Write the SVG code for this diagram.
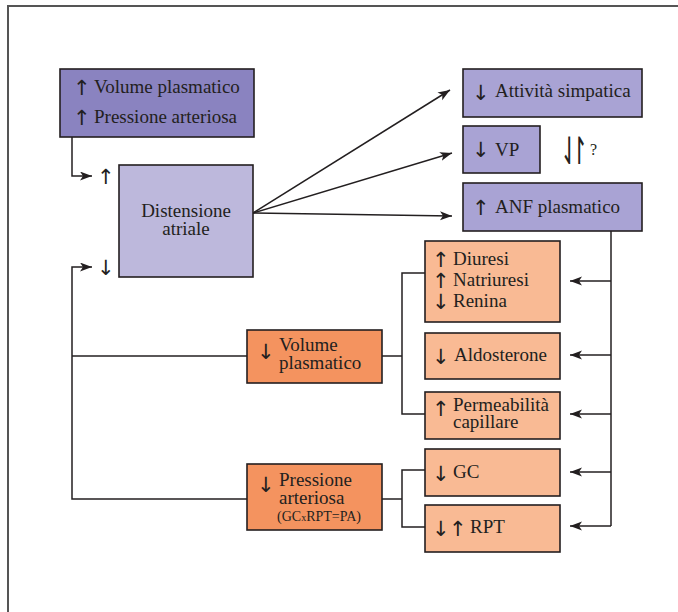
<svg xmlns="http://www.w3.org/2000/svg" width="678" height="612" viewBox="0 0 678 612">
<defs>
<style>
.box{stroke:#231f20;stroke-width:1.6}
.p1{fill:#8a83c0}
.p2{fill:#bdb8dc}
.p3{fill:#a9a3d4}
.o1{fill:#f4935f}
.o2{fill:#f9ba94}
text{font-family:"Liberation Serif","Times New Roman",serif;font-size:19px;fill:#231f20}
.ar{font-family:"DejaVu Sans",sans-serif;font-size:21px;fill:#231f20}
.ln{fill:none;stroke:#231f20;stroke-width:1.5}
</style>
<marker id="ah" markerUnits="userSpaceOnUse" markerWidth="14" markerHeight="10" refX="12" refY="4.5" orient="auto">
<path d="M0,0 L12,4.5 L0,9 L3,4.5 Z" fill="#231f20"/>
</marker>
</defs>
<rect width="678" height="612" fill="#ffffff"/>
<g id="frame">
<path d="M8,612 V6 H678" fill="none" stroke="#555" stroke-width="2"/>
</g>
<g id="connectors">
<path class="ln" d="M72,137 V176 H92" marker-end="url(#ah)"/>
<path class="ln" d="M247,499 H72 V267 H92" marker-end="url(#ah)"/>
<path class="ln" d="M72,356 H247"/>
<path class="ln" d="M253,213 L450,90" marker-end="url(#ah)"/>
<path class="ln" d="M253,213 L452,153" marker-end="url(#ah)"/>
<path class="ln" d="M253,213 L452,216" marker-end="url(#ah)"/>
<path class="ln" d="M382,356 H402"/>
<path class="ln" d="M425,273 H402 V414 H425"/>
<path class="ln" d="M382,499 H402"/>
<path class="ln" d="M425,470 H402 V527 H425"/>
<path class="ln" d="M611,231 V526"/>
<path class="ln" d="M611,281 H570" marker-end="url(#ah)"/>
<path class="ln" d="M611,355 H570" marker-end="url(#ah)"/>
<path class="ln" d="M611,414 H570" marker-end="url(#ah)"/>
<path class="ln" d="M611,472 H570" marker-end="url(#ah)"/>
<path class="ln" d="M611,526 H570" marker-end="url(#ah)"/>
</g>
<g id="n-top">
<rect class="box p1" x="60" y="69" width="194" height="68"/>
<text class="ar" x="73" y="95">↑</text><text x="94" y="93">Volume plasmatico</text>
<text class="ar" x="73" y="125">↑</text><text x="94" y="123">Pressione arteriosa</text>
</g>
<g id="n-dist">
<text class="ar" x="97" y="184">↑</text>
<text class="ar" x="97" y="275">↓</text>
<rect class="box p2" x="119" y="165" width="134" height="112"/>
<text text-anchor="middle"><tspan x="186" y="217">Distensione</tspan><tspan x="186" y="235">atriale</tspan></text>
</g>
<g id="n-simp">
<rect class="box p3" x="463" y="69" width="179" height="48"/>
<text class="ar" x="472" y="100">↓</text><text x="495" y="97">Attività simpatica</text>
</g>
<g id="n-vp">
<rect class="box p3" x="463" y="126" width="77" height="47"/>
<text class="ar" x="472" y="157">↓</text><text x="495" y="156">VP</text>
<text class="ar" transform="translate(560,164) scale(1,1.7)" style="font-size:22px"><tspan x="0" y="0">⇃</tspan><tspan x="10" y="0">↾</tspan></text>
<text x="590" y="155" style="font-size:16px">?</text>
</g>
<g id="n-anf">
<rect class="box p3" x="463" y="183" width="179" height="48"/>
<text class="ar" x="472" y="215">↑</text><text x="495" y="213">ANF plasmatico</text>
</g>
<g id="n-vol">
<rect class="box o1" x="247" y="330" width="135" height="53"/>
<text class="ar" x="257" y="359">↓</text>
<text><tspan x="279" y="351">Volume</tspan><tspan x="279" y="369">plasmatico</tspan></text>
</g>
<g id="n-pres">
<rect class="box o1" x="247" y="464" width="135" height="66"/>
<text class="ar" x="257" y="492">↓</text>
<text><tspan x="279" y="486">Pressione</tspan><tspan x="279" y="504">arteriosa</tspan><tspan x="277" y="521" style="font-size:14px">(GC</tspan><tspan style="font-size:10px">x</tspan><tspan style="font-size:14px">RPT=PA)</tspan></text>
</g>
<g id="n-diur">
<rect class="box o2" x="425" y="241" width="135" height="81"/>
<text class="ar" x="432" y="267">↑</text><text x="453" y="265">Diuresi</text>
<text class="ar" x="432" y="288">↑</text><text x="453" y="286">Natriuresi</text>
<text class="ar" x="432" y="309">↓</text><text x="453" y="307">Renina</text>
</g>
<g id="n-aldo">
<rect class="box o2" x="425" y="333" width="135" height="46"/>
<text class="ar" x="432" y="364">↓</text><text x="454" y="361">Aldosterone</text>
</g>
<g id="n-perm">
<rect class="box o2" x="425" y="392" width="135" height="47"/>
<text class="ar" x="432" y="416">↑</text>
<text><tspan x="453" y="411">Permeabilità</tspan><tspan x="453" y="428">capillare</tspan></text>
</g>
<g id="n-gc">
<rect class="box o2" x="425" y="449" width="135" height="47"/>
<text class="ar" x="432" y="481">↓</text><text x="453" y="478">GC</text>
</g>
<g id="n-rpt">
<rect class="box o2" x="425" y="505" width="135" height="47"/>
<text class="ar" x="432" y="536">↓</text><text class="ar" x="449" y="536">↑</text><text x="470" y="533">RPT</text>
</g>
</svg>
